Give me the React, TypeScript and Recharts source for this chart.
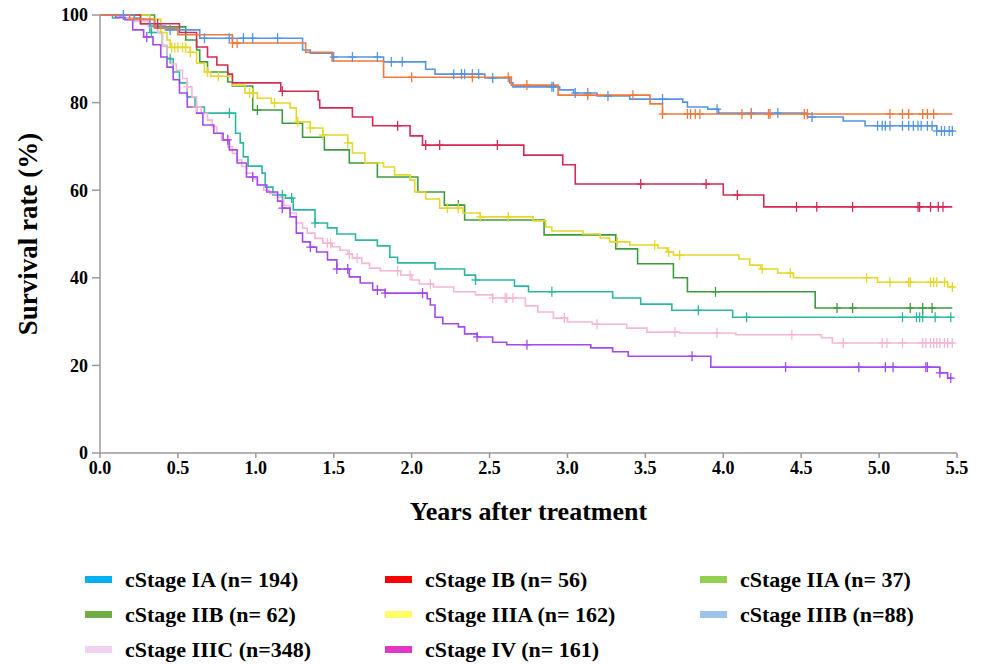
import React from "react";
import {
  ComposedChart,
  Line,
  XAxis,
  YAxis,
  Label,
} from "recharts";

// Kaplan-Meier step curves: time (years) where each level starts, survival (%)
const iaTimes = [0, 0.22, 0.32, 0.42, 0.64, 1.3, 1.35, 1.49, 1.82, 2.09, 2.15, 2.47, 2.63, 2.65, 2.95, 3.04, 3.19, 3.4, 3.74, 3.77, 3.9, 3.97, 4.54, 4.77, 4.91, 5.37, 5.48];
const iaSurv = [100, 99, 97.5, 96.6, 94.7, 92, 91.3, 90.4, 89.3, 87.6, 86.5, 85.6, 84.5, 83.6, 82.9, 82.2, 81.5, 80.8, 80.1, 79, 78.5, 77.6, 76.7, 75.8, 74.7, 73.5, 73.5];
const iaCensor = [0.15, 0.45, 0.67, 0.83, 0.92, 0.98, 1.14, 1.5, 1.62, 1.78, 1.87, 1.94, 2.27, 2.32, 2.34, 2.39, 2.43, 2.52, 2.9, 2.91, 3.05, 3.13, 3.26, 3.61, 3.96, 4.18, 4.35, 4.57, 4.99, 5.02, 5.04, 5.07, 5.15, 5.19, 5.22, 5.25, 5.27, 5.31, 5.34, 5.37, 5.4, 5.42, 5.45, 5.47];

const ibTimes = [0, 0.19, 0.35, 0.5, 0.85, 1.32, 1.49, 1.82, 2.64, 2.94, 3.53, 3.61, 5.47];
const ibSurv = [100, 99, 97, 95.5, 93.6, 91.5, 89.5, 85.8, 84, 81.7, 79.7, 77.4, 77.4];
const ibCensor = [0.85, 0.88, 2.0, 2.39, 2.62, 2.74, 3.13, 3.42, 3.61, 3.77, 3.79, 3.82, 3.85, 4.12, 4.18, 4.29, 4.3, 4.52, 4.54, 5.07, 5.15, 5.19, 5.28, 5.31, 5.35];

const iiaTimes = [0, 0.26, 0.51, 0.62, 0.69, 0.75, 0.82, 0.85, 1.16, 1.4, 1.41, 1.62, 1.75, 1.99, 2.07, 2.72, 2.97, 3.05, 4.0, 4.26, 5.47];
const iiaSurv = [100, 98, 96, 92.7, 90.4, 88.6, 86.5, 84.5, 82.6, 80.6, 78.8, 76.7, 74.7, 72.4, 70.3, 68, 65.8, 61.4, 58.9, 56.2, 56.2];
const iiaCensor = [0.37, 1.17, 1.91, 2.09, 2.18, 2.55, 3.47, 3.89, 4.09, 4.47, 4.6, 4.83, 5.25, 5.26, 5.33, 5.38, 5.41];

const iibTimes = [0, 0.35, 0.55, 0.62, 0.64, 0.69, 0.82, 0.85, 0.98, 1.17, 1.3, 1.44, 1.6, 1.78, 2.04, 2.21, 2.34, 2.85, 3.31, 3.45, 3.68, 3.77, 4.59, 5.47];
const iibSurv = [100, 97.3, 94.3, 92, 89.3, 87, 84.7, 83.8, 78.3, 75.3, 72.1, 69.2, 66.2, 63, 59.6, 56.6, 53.2, 49.8, 46.6, 43.2, 40, 36.8, 33.1, 33.1];
const iibCensor = [1.01, 2.3, 3.95, 4.73, 4.83, 5.2, 5.28, 5.34];

const iiiaTimes = [0, 0.32, 0.39, 0.43, 0.45, 0.58, 0.62, 0.67, 0.71, 0.85, 0.93, 1.01, 1.1, 1.22, 1.26, 1.35, 1.43, 1.59, 1.62, 1.7, 1.82, 1.89, 1.99, 2.02, 2.09, 2.18, 2.33, 2.44, 2.78, 2.86, 2.9, 3.1, 3.21, 3.27, 3.4, 3.58, 3.64, 3.68, 4.1, 4.17, 4.24, 4.35, 4.45, 4.99, 5.44, 5.48];
const iiiaSurv = [100, 99, 96, 94.3, 92.6, 91.5, 89, 87, 86, 84, 82.2, 81, 79.9, 78.8, 75.6, 74.2, 72.6, 70.8, 68.5, 66.2, 65.3, 63.5, 62.3, 59.6, 58, 55.9, 54.8, 53.9, 53, 51.6, 50.7, 50, 49.1, 48.2, 47.5, 46.8, 45.9, 45.2, 44.3, 42.9, 42, 41.1, 40, 39, 37.9, 37.9];
const iiiaCensor = [0.46, 0.48, 0.5, 0.53, 0.55, 0.58, 0.69, 0.76, 0.96, 0.98, 1.12, 1.27, 1.35, 1.43, 1.59, 2.23, 2.3, 2.44, 2.62, 3.32, 3.56, 3.65, 3.72, 4.25, 4.43, 4.92, 5.07, 5.19, 5.2, 5.33, 5.35, 5.37, 5.42, 5.47];

const iiibTimes = [0, 0.08, 0.26, 0.32, 0.4, 0.43, 0.47, 0.51, 0.56, 0.61, 0.67, 0.87, 0.9, 0.92, 0.95, 1.04, 1.06, 1.11, 1.19, 1.24, 1.38, 1.46, 1.52, 1.64, 1.78, 1.86, 1.91, 2.15, 2.34, 2.41, 2.66, 2.75, 3.29, 3.47, 3.67, 4.06, 5.47];
const iiibSurv = [100, 99.3, 98, 96, 93, 90, 87, 84.5, 81.3, 79, 77.6, 73, 70.8, 67.6, 65.5, 63.9, 60.7, 58.9, 58.2, 55.5, 52.5, 51.4, 50, 48.6, 47.3, 44.7, 43.4, 42, 40.6, 39.5, 38.1, 36.8, 35.4, 34, 32.6, 31, 31];
const iiibCensor = [0.33, 0.45, 0.83, 1.17, 1.23, 1.38, 2.41, 2.9, 3.84, 4.15, 5.15, 5.24, 5.26, 5.28, 5.36, 5.46];

const iiicTimes = [0, 0.13, 0.22, 0.31, 0.37, 0.4, 0.43, 0.46, 0.49, 0.53, 0.56, 0.59, 0.62, 0.65, 0.69, 0.72, 0.75, 0.78, 0.82, 0.85, 0.88, 0.91, 0.94, 0.98, 1.01, 1.05, 1.09, 1.14, 1.18, 1.22, 1.26, 1.3, 1.33, 1.38, 1.43, 1.49, 1.54, 1.59, 1.62, 1.68, 1.73, 1.8, 1.93, 2.0, 2.05, 2.14, 2.27, 2.41, 2.52, 2.73, 2.81, 2.91, 3.0, 3.16, 3.38, 3.51, 3.72, 4.08, 4.63, 4.7, 5.48];
const iiicSurv = [100, 99.3, 98.5, 97.3, 96, 93, 90.2, 88.8, 87.4, 85.5, 83.6, 81.3, 79, 77.5, 76, 74.5, 73, 71.4, 69.9, 68.4, 66.9, 65.4, 63.9, 62.5, 61.2, 60, 59.2, 58.4, 56.5, 54.8, 52.5, 51.3, 50.2, 49, 47.9, 47.1, 46.3, 45.4, 44.5, 43.3, 42.2, 41.6, 40.6, 39.5, 38.6, 37.9, 36.8, 36.1, 35.4, 33.6, 32.2, 30.8, 29.9, 29.4, 28.5, 27.6, 27.4, 27, 26.3, 25.1, 25.1];
const iiicCensor = [0.56, 0.62, 1.46, 1.48, 1.6, 1.65, 1.91, 1.99, 2.12, 2.52, 2.6, 2.61, 2.65, 2.98, 3.19, 3.69, 3.96, 4.44, 4.77, 5.02, 5.05, 5.15, 5.28, 5.3, 5.33, 5.35, 5.37, 5.39, 5.42, 5.44, 5.47];

const ivTimes = [0, 0.1, 0.16, 0.21, 0.28, 0.34, 0.39, 0.43, 0.47, 0.51, 0.56, 0.62, 0.66, 0.73, 0.79, 0.83, 0.88, 0.94, 1.01, 1.07, 1.14, 1.17, 1.22, 1.26, 1.3, 1.35, 1.39, 1.46, 1.52, 1.6, 1.67, 1.75, 1.83, 2.1, 2.12, 2.15, 2.2, 2.3, 2.34, 2.42, 2.52, 2.61, 3.15, 3.29, 3.39, 3.92, 5.39, 5.44, 5.47];
const ivSurv = [100, 99.5, 98.9, 96.6, 95, 93.2, 90.4, 88.1, 85.2, 82.2, 79, 77.6, 74.9, 73, 71.5, 69.2, 66.2, 63, 61.2, 59.6, 57.5, 55.9, 53.9, 50.2, 48.2, 47, 45.9, 44.1, 42, 40.2, 38.8, 37.2, 36.5, 35.2, 33.8, 31, 29.5, 28.8, 27.2, 26.5, 25.3, 24.7, 24, 23.1, 22.1, 19.6, 18.3, 17.1, 17.1];
const ivCensor = [0.3, 0.82, 0.98, 1.17, 1.35, 1.52, 1.59, 1.78, 1.83, 2.07, 2.42, 2.74, 3.8, 4.4, 4.87, 5.04, 5.09, 5.3, 5.31, 5.39, 5.46];

const stageNames = [
  "cStage IA (n= 194)",
  "cStage IB (n= 56)",
  "cStage IIA (n= 37)",
  "cStage IIB (n= 62)",
  "cStage IIIA (n= 162)",
  "cStage IIIB (n=88)",
  "cStage IIIC (n=348)",
  "cStage IV (n= 161)",
];
const legendColors = ["#00b0f0", "#ff0000", "#92d050", "#70ad47", "#ffff66", "#9dc3e6", "#efd2ef", "#e236c4"];

const xTicks = [0, 0.5, 1, 1.5, 2, 2.5, 3, 3.5, 4, 4.5, 5, 5.5];
const yTicks = [0, 20, 40, 60, 80, 100];

const FONT = "'Liberation Serif', 'Times New Roman', serif";

const toSteps = (times: number[], surv: number[]) =>
  times.map((t, i) => ({ t, s: surv[i] }));

const toCensor = (times: number[], surv: number[], cens: number[]) =>
  cens.map((c) => {
    let s = surv[0];
    for (let i = 0; i < times.length; i++) if (times[i] <= c) s = surv[i];
    return { t: c, s };
  });

const curves = [
  { key: "iiib", color: "#2bb8a3", times: iiibTimes, surv: iiibSurv, cens: iiibCensor },
  { key: "iiic", color: "#f6b6d4", times: iiicTimes, surv: iiicSurv, cens: iiicCensor },
  { key: "iv", color: "#a24af0", times: ivTimes, surv: ivSurv, cens: ivCensor },
  { key: "iib", color: "#3f9a3f", times: iibTimes, surv: iibSurv, cens: iibCensor },
  { key: "iiia", color: "#e4d82a", times: iiiaTimes, surv: iiiaSurv, cens: iiiaCensor },
  { key: "iia", color: "#d42a55", times: iiaTimes, surv: iiaSurv, cens: iiaCensor },
  { key: "ia", color: "#5595e2", times: iaTimes, surv: iaSurv, cens: iaCensor },
  { key: "ib", color: "#f2783e", times: ibTimes, surv: ibSurv, cens: ibCensor },
];

const censorDot = (color: string) => (p: any) => {
  const { cx, cy, index } = p;
  if (cx == null || cy == null) return <g key={index} />;
  return (
    <g key={index} stroke={color} strokeWidth={1.3}>
      <line x1={cx} y1={cy - 5} x2={cx} y2={cy + 5} />
      <line x1={cx - 4} y1={cy} x2={cx + 4} y2={cy} />
    </g>
  );
};

export default function App() {
  return (
    <div style={{ position: "absolute", left: 0, top: 0, width: 987, height: 665, background: "#fff" }}>
      <ComposedChart width={987} height={665} margin={{ top: 15, right: 30, bottom: 0, left: 0 }}>
        <XAxis
          type="number"
          dataKey="t"
          domain={[0, 5.5]}
          ticks={xTicks}
          allowDataOverflow
          height={212}
          tickSize={5}
          tickMargin={3}
          tickFormatter={(v: number) => v.toFixed(1)}
          stroke="#9a9a9a"
          strokeWidth={1.5}
          tick={{ fill: "#000", fontFamily: FONT, fontWeight: "bold", fontSize: 18 }}
        >
          <Label
            value="Years after treatment"
            position="insideTop"
            offset={49}
            style={{ fill: "#000", fontFamily: FONT, fontWeight: "bold", fontSize: 26 }}
          />
        </XAxis>
        <YAxis
          type="number"
          dataKey="s"
          domain={[0, 100]}
          ticks={yTicks}
          width={100}
          tickSize={8}
          tickMargin={4}
          stroke="#9a9a9a"
          strokeWidth={1.5}
          tick={{ fill: "#000", fontFamily: FONT, fontWeight: "bold", fontSize: 18 }}
        >
          <Label
            value="Survival rate (%)"
            angle={-90}
            position="insideLeft"
            offset={27}
            style={{ fill: "#000", fontFamily: FONT, fontWeight: "bold", fontSize: 27, textAnchor: "middle" }}
          />
        </YAxis>
        {curves.map((c) => (
          <Line
            key={c.key}
            data={toSteps(c.times, c.surv)}
            dataKey="s"
            type="stepAfter"
            stroke={c.color}
            strokeWidth={1.6}
            dot={false}
            activeDot={false}
            isAnimationActive={false}
          />
        ))}
        {curves.map((c) => (
          <Line
            key={c.key + "-c"}
            data={toCensor(c.times, c.surv, c.cens)}
            dataKey="s"
            stroke="none"
            dot={censorDot(c.color)}
            activeDot={false}
            isAnimationActive={false}
          />
        ))}
      </ComposedChart>
      <div
        style={{
          position: "absolute",
          left: 85,
          top: 562,
          display: "grid",
          gridTemplateColumns: "300px 315px 260px",
          gridAutoRows: "35px",
          fontFamily: FONT,
          fontWeight: "bold",
          fontSize: 22,
          color: "#000",
        }}
      >
        {stageNames.map((name, i) => (
          <div key={name} style={{ display: "flex", alignItems: "center", whiteSpace: "nowrap" }}>
            <span style={{ display: "inline-block", width: 27, height: 7, background: legendColors[i], marginRight: 13 }} />
            <span>{name}</span>
          </div>
        ))}
      </div>
    </div>
  );
}
